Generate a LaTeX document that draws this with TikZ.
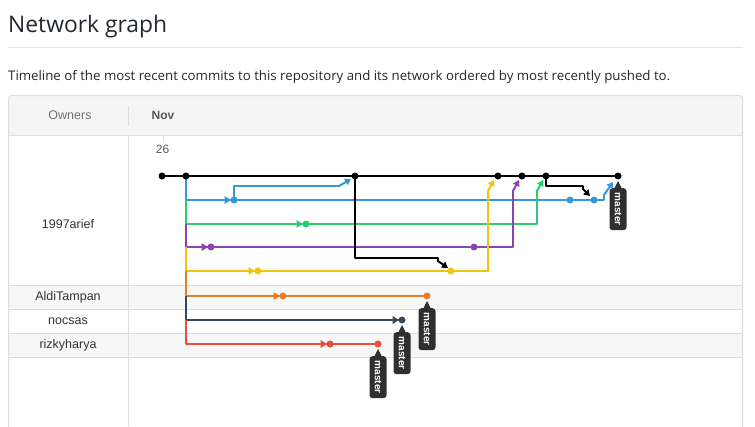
\documentclass[tikz,border=0pt]{standalone}
\usepackage{fontspec}
\setmainfont{Liberation Sans}
\newfontfamily\uifont{Open Sans}
\usetikzlibrary{arrows.meta}
\definecolor{cblue}{HTML}{3498DB}
\definecolor{cgreen}{HTML}{2ECC71}
\definecolor{cpurple}{HTML}{8E44AD}
\definecolor{cyellow}{HTML}{F1C40F}
\definecolor{corange}{HTML}{E67E22}
\definecolor{cnavy}{HTML}{34495E}
\definecolor{cred}{HTML}{E74C3C}
\definecolor{tagc}{HTML}{2F2F2F}
\definecolor{border}{HTML}{DDDDDD}
\definecolor{headbg}{HTML}{F5F5F5}
\definecolor{rowbg}{HTML}{F7F7F7}
\definecolor{txt}{HTML}{333333}
\definecolor{titlec}{HTML}{24292E}
\newcommand\inarrow[3]{\fill[#3] (#1-9.5,#2-4) -- (#1-3,#2) -- (#1-9.5,#2+4) -- cycle;}
\newcommand\mastertag[2]{%
  \fill[tagc] (#1-4,#2+13) -- (#1,#2+5) -- (#1+4,#2+13) -- cycle;
  \node[tag, anchor=west] at (#1,#2+12) {master};}
\begin{document}
\begin{tikzpicture}[x=1pt,y=-1pt,line join=round,
  dot/.style={circle, fill=#1, inner sep=0pt, minimum size=7pt},
  br/.style={draw=#1, line width=2pt},
  ramp/.style={draw=#1, line width=2pt, -{Triangle[length=6pt,width=7pt]}},
  tag/.style={fill=tagc, text=white, rounded corners=3pt, rotate=-90, minimum width=42pt, minimum height=17pt, inner sep=0pt, font=\fontsize{10}{10}\selectfont\bfseries},
  lbl/.style={text=txt, font=\fontsize{12.5}{14}\selectfont, inner sep=0pt}]
\useasboundingbox (0,0) rectangle (755,426);
\fill[white] (0,0) rectangle (755,426);
% heading
\node[anchor=base west, inner sep=0pt, text=titlec] (title) at (8,32) {\resizebox{159pt}{!}{\uifont Network graph}};
\draw[draw=border!80, line width=1pt] (8,47.5) -- (743,47.5);
\node[anchor=base west, inner sep=0pt, text=titlec] (sub) at (8,80) {\resizebox{662pt}{!}{\uifont Timeline of the most recent commits to this repository and its network ordered by most recently pushed to.}};
% table
\fill[headbg] (8.5,95.5) rectangle (742.5,135);
\fill[rowbg] (8.5,285) rectangle (742.5,309);
\fill[rowbg] (8.5,333) rectangle (742.5,357);
\foreach \yy in {285,309,333,357} \draw[border, line width=1pt] (8.5,\yy) -- (742.5,\yy);
\draw[border, line width=1pt] (8.5,135) -- (742.5,135);
\draw[border, line width=1pt, rounded corners=3pt] (8.5,430) -- (8.5,95.5) -- (742.5,95.5) -- (742.5,430);
\draw[border, line width=1pt] (128.5,106) -- (128.5,126);
\draw[border, line width=1pt] (128.5,135) -- (128.5,426);
\draw[border, line width=1pt] (163,135) -- (163,141);
\node[text=black!55, font=\fontsize{12.5}{14}\selectfont, inner sep=0pt] (owners) at (70,115) {Owners};
\node[text=black!65, font=\fontsize{12}{14}\selectfont\bfseries, anchor=west, inner sep=0pt] (nov) at (151.5,115) {Nov};
\node[text=black!65, font=\fontsize{12}{14}\selectfont, inner sep=0pt] (d26) at (162.5,149.5) {26};
\node[lbl] (o1) at (68,224) {1997arief};
\node[lbl] (o2) at (68,297) {AldiTampan};
\node[lbl] (o3) at (68,321) {nocsas};
\node[lbl] (o4) at (68,345) {rizkyharya};
% commit coordinates
\coordinate (k1) at (162,176); \coordinate (k2) at (186,176); \coordinate (k3) at (355,176);
\coordinate (k4) at (498,176); \coordinate (k5) at (522,176); \coordinate (k6) at (546,176); \coordinate (k7) at (618,176);
\coordinate (jb) at (186,200); \coordinate (jg) at (186,224); \coordinate (jp) at (186,247);
\coordinate (jy) at (186,271); \coordinate (jo) at (186,296); \coordinate (jn) at (186,320); \coordinate (jr) at (186,344);
\coordinate (b1) at (234,200); \coordinate (b2) at (570,200); \coordinate (b3) at (594,200);
\coordinate (g1) at (306,224); \coordinate (p1) at (211,247); \coordinate (p2) at (474,247);
\coordinate (y1) at (258,271); \coordinate (y2) at (451,271);
\coordinate (r1) at (283,296); \coordinate (r2) at (427,296);
\coordinate (n1) at (402,320);
\coordinate (e1) at (330,344); \coordinate (e2) at (378,344);
% branch lines
\path[br=cblue] (k2) -- (jb) -- (b3) -- ++(10,0) -- ++(0,-6);
\path[ramp=cblue] (604,195) -- (613,182);
\path[br=cblue] (b1) -- ++(0,-14) -- (340,186);
\path[ramp=cblue] (339,186) -- (351,179);
\path[br=cgreen] (jb) -- (jg) -- (537,224) -- (537,190);
\path[ramp=cgreen] (537,191) -- (543,180);
\path[br=cpurple] (jg) -- (jp) -- (513,247) -- (513,190);
\path[ramp=cpurple] (513,191) -- (519,180);
\path[br=cyellow] (jp) -- (jy) -- (488,271) -- (488,190);
\path[ramp=cyellow] (488,191) -- (494,180);
\path[br=corange] (jy) -- (jo) -- (r2);
\path[br=cnavy] (jo) -- (jn) -- (n1);
\path[br=cred] (jn) -- (jr) -- (e2);
% black lines
\path[br=black] (k1) -- (k7);
\path[br=black] (k3) -- (355,258) -- (438,258) -- (438,262);
\path[ramp=black] (438,261) -- (448,268);
\path[br=black] (k6) -- (546,186) -- (583,186) -- (583,190);
\path[ramp=black] (583,189) -- (590,196);
% small arrows before commits
\inarrow{234}{200}{cblue}
\inarrow{306}{224}{cgreen}
\inarrow{211}{247}{cpurple}
\inarrow{258}{271}{cyellow}
\inarrow{283}{296}{corange}
\inarrow{402}{320}{cnavy}
\inarrow{330}{344}{cred}
% dots
\foreach \c in {k1,k2,k3,k4,k5,k6,k7} \node[dot=black] at (\c) {};
\foreach \c in {b1,b2,b3} \node[dot=cblue] at (\c) {};
\node[dot=cgreen] at (g1) {};
\foreach \c in {p1,p2} \node[dot=cpurple] at (\c) {};
\foreach \c in {y1,y2} \node[dot=cyellow] at (\c) {};
\foreach \c in {r1,r2} \node[dot=corange] at (\c) {};
\node[dot=cnavy] at (n1) {};
\foreach \c in {e1,e2} \node[dot=cred] at (\c) {};
% master tags
\mastertag{618}{176}
\mastertag{427}{296}
\mastertag{402}{320}
\mastertag{378}{344}
\end{tikzpicture}
\end{document}
